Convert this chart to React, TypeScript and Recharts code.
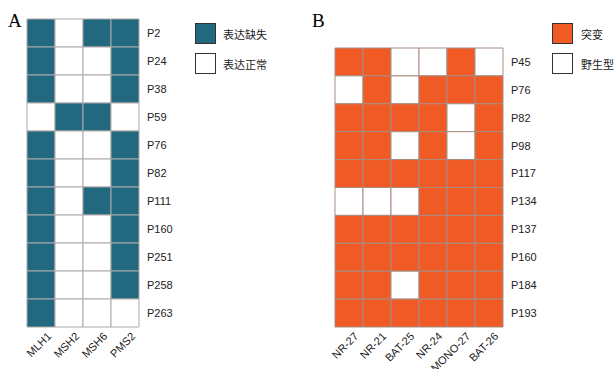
import React from 'react';
import { BarChart, Bar, XAxis, YAxis, Cell } from 'recharts';

// Panel A: MMR protein expression
const genesA = ['MLH1', 'MSH2', 'MSH6', 'PMS2'];
const patientsA = ['P2', 'P24', 'P38', 'P59', 'P76', 'P82', 'P111', 'P160', 'P251', 'P258', 'P263'];
// 1 = 表达缺失, 0 = 表达正常 (rows follow patientsA, columns follow genesA)
const lossA = [
  [1, 0, 1, 1],
  [1, 0, 0, 1],
  [1, 0, 0, 1],
  [0, 1, 1, 0],
  [1, 0, 0, 1],
  [1, 0, 0, 1],
  [1, 0, 1, 1],
  [1, 0, 0, 1],
  [1, 0, 0, 1],
  [1, 0, 0, 1],
  [1, 0, 0, 0],
];
const legendA = ['表达缺失', '表达正常'];

// Panel B: MSI markers
const markersB = ['NR-27', 'NR-21', 'BAT-25', 'NR-24', 'MONO-27', 'BAT-26'];
const patientsB = ['P45', 'P76', 'P82', 'P98', 'P117', 'P134', 'P137', 'P160', 'P184', 'P193'];
// 1 = 突变, 0 = 野生型
const mutB = [
  [1, 1, 0, 0, 1, 0],
  [0, 1, 0, 1, 1, 1],
  [1, 1, 1, 1, 0, 1],
  [1, 1, 0, 1, 0, 1],
  [1, 1, 1, 1, 1, 1],
  [0, 0, 0, 1, 1, 1],
  [1, 1, 1, 1, 1, 1],
  [1, 1, 1, 1, 1, 1],
  [1, 1, 0, 1, 1, 1],
  [1, 1, 1, 1, 1, 1],
];
const legendB = ['突变', '野生型'];

const TEAL = '#22697f';
const ORANGE = '#ef5a25';
const SANS = '"Liberation Sans", Arial, sans-serif';
const CJK = '"Noto Sans CJK SC", sans-serif';

const buildData = (cols: string[], rows: string[]) =>
  cols.map((c) => {
    const d: any = { col: c };
    rows.forEach((r) => (d[r] = 1));
    return d;
  });

const RotTick = ({ x, y, payload, dx }: any) => {
  const ax = x + dx;
  const ay = y + 2;
  return (
    <text
      x={ax}
      y={ay}
      textAnchor="end"
      fontSize={11}
      fontFamily={SANS}
      fill="#222"
      transform={`rotate(-45, ${ax}, ${ay})`}
    >
      {payload.value}
    </text>
  );
};

interface HeatProps {
  cols: string[];
  rows: string[];
  matrix: number[][];
  color: string;
  grid: string;
  width: number;
  top: number;
  left: number;
  right: number;
  tickDx: number;
}

const Heat = ({ cols, rows, matrix, color, grid, width, top, left, right, tickDx }: HeatProps) => {
  const data = buildData(cols, rows);
  return (
    <BarChart
      width={width}
      height={369}
      data={data}
      margin={{ top, left, right: 0, bottom: 0 }}
      barCategoryGap={0}
    >
      <XAxis
        dataKey="col"
        type="category"
        interval={0}
        height={42}
        axisLine={false}
        tickLine={false}
        tick={<RotTick dx={tickDx} />}
      />
      <YAxis
        orientation="right"
        type="number"
        domain={[0, rows.length]}
        reversed
        width={right}
        ticks={rows.map((_, i) => i + 0.5)}
        tickFormatter={(v: number) => rows[Math.floor(v)]}
        axisLine={false}
        tickLine={false}
        tick={{ fontSize: 11, fontFamily: SANS, fill: '#222' }}
        interval={0}
      />
      {rows.map((r, ri) => (
        <Bar key={r} dataKey={r} stackId="s" stroke={grid} strokeWidth={1} isAnimationActive={false}>
          {cols.map((c, ci) => (
            <Cell key={c} fill={matrix[ri][ci] ? color : '#ffffff'} />
          ))}
        </Bar>
      ))}
    </BarChart>
  );
};

const LegendBox = ({ x, y, fill, label, textX }: any) => (
  <>
    <div
      style={{
        position: 'absolute',
        left: x,
        top: y,
        width: 19,
        height: 19,
        background: fill,
        border: '1.5px solid #333',
      }}
    />
    <div
      style={{
        position: 'absolute',
        left: textX,
        top: y + 3,
        fontSize: 11,
        lineHeight: '16px',
        fontFamily: CJK,
        color: '#222',
      }}
    >
      {label}
    </div>
  </>
);

export default function App() {
  return (
    <div style={{ position: 'absolute', left: 0, top: 0, width: 614, height: 369, background: '#fff', overflow: 'hidden' }}>
      <div style={{ position: 'absolute', left: 0, top: 0 }}>
        <Heat cols={genesA} rows={patientsA} matrix={lossA} color={TEAL} grid="#aaaaaa"
          width={280} top={19} left={27} right={141} tickDx={11} />
      </div>
      <div style={{ position: 'absolute', left: 300, top: 0 }}>
        <Heat cols={markersB} rows={patientsB} matrix={mutB} color={ORANGE} grid="#a88c82"
          width={314} top={48} left={35} right={111} tickDx={10} />
      </div>
      <div style={{ position: 'absolute', left: 8, top: 10, fontSize: 19, fontFamily: '"Liberation Serif", serif' }}>A</div>
      <div style={{ position: 'absolute', left: 312, top: 10, fontSize: 19, fontFamily: '"Liberation Serif", serif' }}>B</div>
      <LegendBox x={195} y={23} fill={TEAL} label={legendA[0]} textX={223} />
      <LegendBox x={195} y={53} fill="#fff" label={legendA[1]} textX={223} />
      <LegendBox x={552} y={23} fill={ORANGE} label={legendB[0]} textX={581} />
      <LegendBox x={552} y={53} fill="#fff" label={legendB[1]} textX={581} />
    </div>
  );
}
